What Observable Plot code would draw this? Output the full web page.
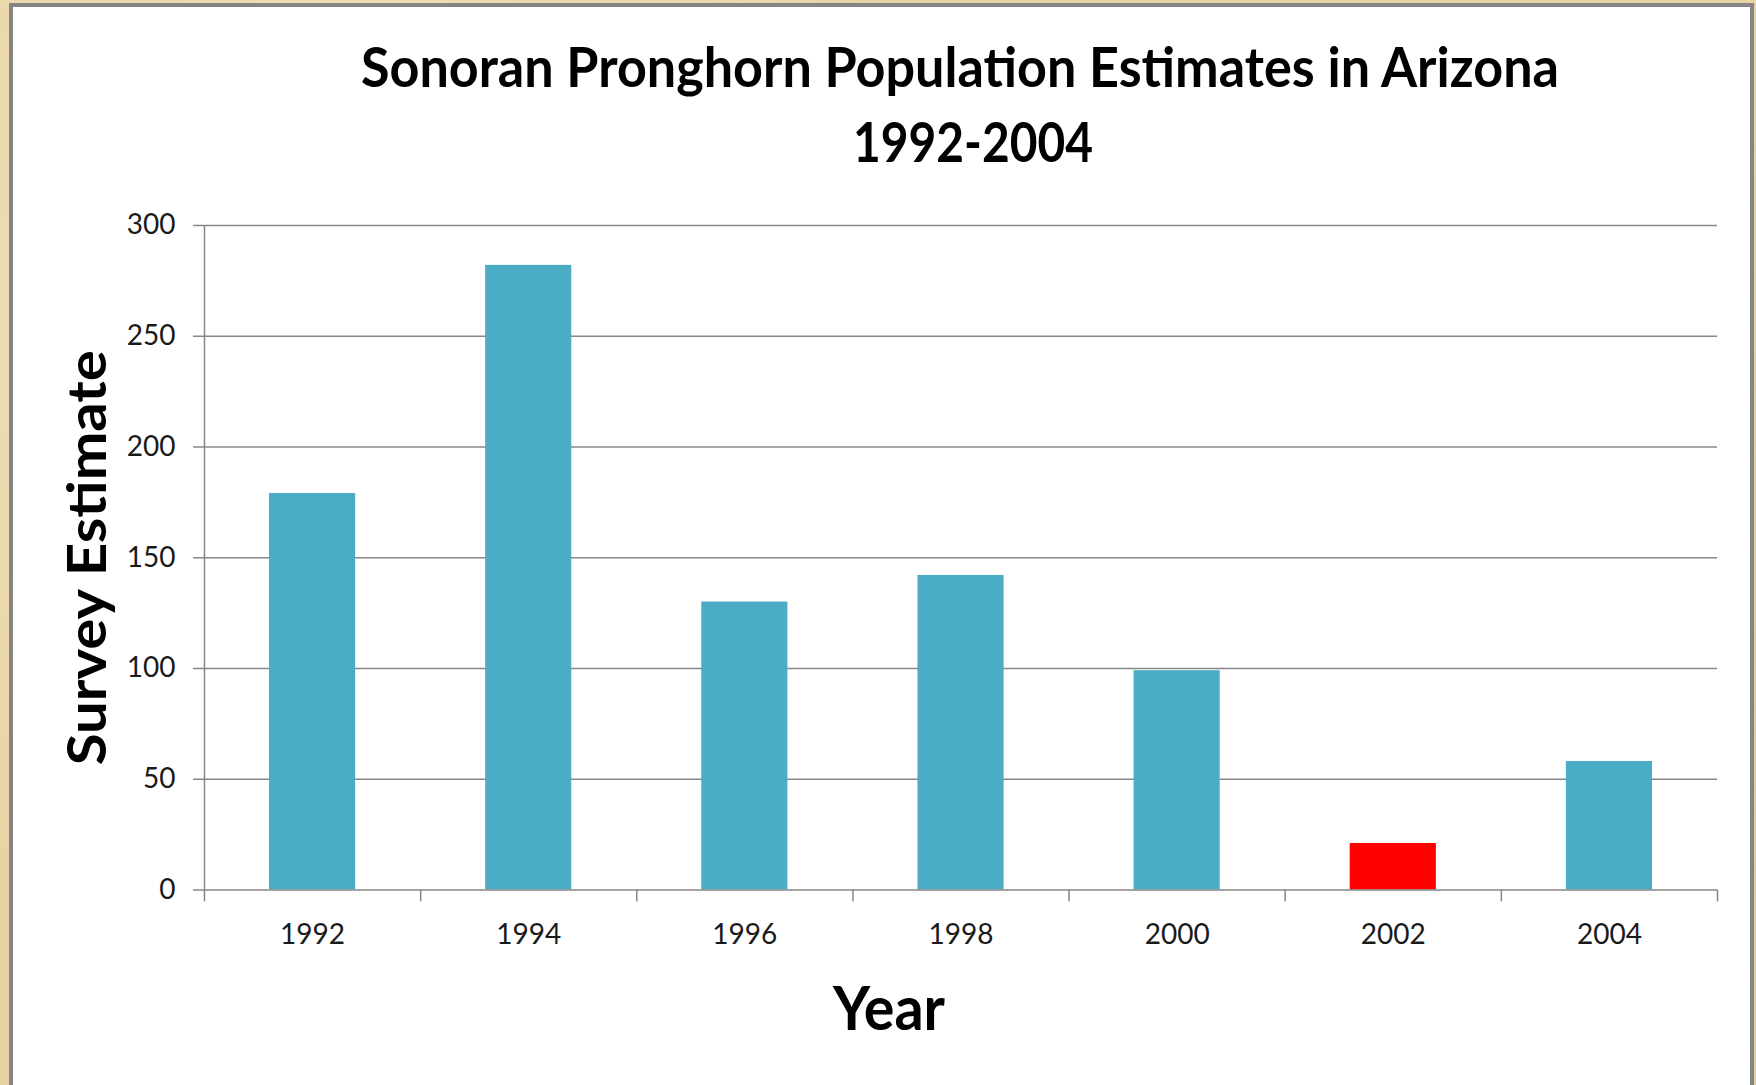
<!DOCTYPE html>
<html><head><meta charset="utf-8">
<script src="https://cdn.jsdelivr.net/npm/d3@7"></script>
<script src="https://cdn.jsdelivr.net/npm/@observablehq/plot@0.6"></script>
<style>
html,body{margin:0;padding:0;width:1756px;height:1085px;overflow:hidden;}
body{background:#e8d3a4;background-image:radial-gradient(circle at 20% 30%, rgba(255,245,220,0.5), transparent 40%),radial-gradient(circle at 80% 70%, rgba(200,170,120,0.35), transparent 45%);}
#panel{position:absolute;left:9px;top:3px;width:1745px;height:1100px;box-sizing:border-box;border:4px solid #858585;border-bottom:none;background:#fff;}
#chart{position:absolute;left:0;top:180px;}
#overlay{position:absolute;left:0;top:0;pointer-events:none;}
#overlay text{font-family:Lato,"Open Sans",sans-serif;font-weight:bold;fill:#000;}
#chart [aria-label="y-axis label"]{font-size:54px;font-weight:bold;fill:#000;}
</style></head>
<body>
<div id="panel"></div>
<div id="chart"></div>
<svg id="overlay" width="1756" height="1085">
  <text id="t1" x="960" y="87" text-anchor="middle" font-size="55" textLength="1198" lengthAdjust="spacingAndGlyphs">Sonoran Pronghorn Population Estimates in Arizona</text>
  <text id="t2" x="973" y="162" text-anchor="middle" font-size="55" textLength="240" lengthAdjust="spacingAndGlyphs">1992-2004</text>
  <text id="t3" x="889" y="1030" text-anchor="middle" font-size="62" textLength="112" lengthAdjust="spacingAndGlyphs">Year</text>
</svg>
<script>
const years = [1992, 1994, 1996, 1998, 2000, 2002, 2004];
const estimates = [179, 282, 130, 142, 99, 21, 58];
const yTicks = [0, 50, 100, 150, 200, 250, 300];
const highlightYear = 2002;

const BLUE = "#4BACC6", RED = "#FF0000", GRID = "#878787";
const step = 2;
const data = years.map((year, i) => ({year, value: estimates[i]}));
const bounds = [...years.map(y => y - step / 2), years[years.length - 1] + step / 2];

const chart = Plot.plot({
  width: 1756, height: 905,
  marginTop: 45, marginBottom: 195.5, marginLeft: 204, marginRight: 39,
  style: {background: "transparent", fontFamily: "Lato, 'Open Sans', sans-serif", color: "#1a1a1a", overflow: "visible"},
  x: {type: "linear", domain: [bounds[0], bounds[bounds.length - 1]]},
  y: {domain: [0, 300]},
  color: {type: "identity"},
  marks: [
    Plot.gridY(yTicks.slice(1), {stroke: GRID, strokeOpacity: 1, strokeWidth: 1.5}),
    Plot.rect(data, {x1: d => d.year - step / 2, x2: d => d.year + step / 2, y1: 0, y2: "value",
      insetLeft: 65, insetRight: 65, fill: d => d.year === highlightYear ? RED : BLUE}),
    Plot.ruleY([0], {stroke: GRID, strokeWidth: 1.5}),
    Plot.ruleX([bounds[0]], {stroke: GRID, strokeWidth: 1.5}),
    Plot.axisY({ticks: yTicks, tickSize: 11, tickPadding: 18, fontSize: 28, stroke: GRID, strokeWidth: 1.5,
      label: "Survey Estimate", labelAnchor: "center", labelOffset: 137, labelArrow: "none"}),
    Plot.axisX({ticks: bounds, tickSize: 12, tickFormat: () => "", stroke: GRID, strokeWidth: 1.5, label: null}),
    Plot.axisX({ticks: years, tickSize: 0, tickPadding: 34, fontSize: 28, tickFormat: d => String(d), label: null})
  ]
});
document.getElementById("chart").appendChild(chart);
const yl = chart.querySelector('[aria-label="y-axis label"] text');
if (yl) { yl.setAttribute("textLength", "415"); yl.setAttribute("lengthAdjust", "spacingAndGlyphs"); }
</script>
</body></html>
